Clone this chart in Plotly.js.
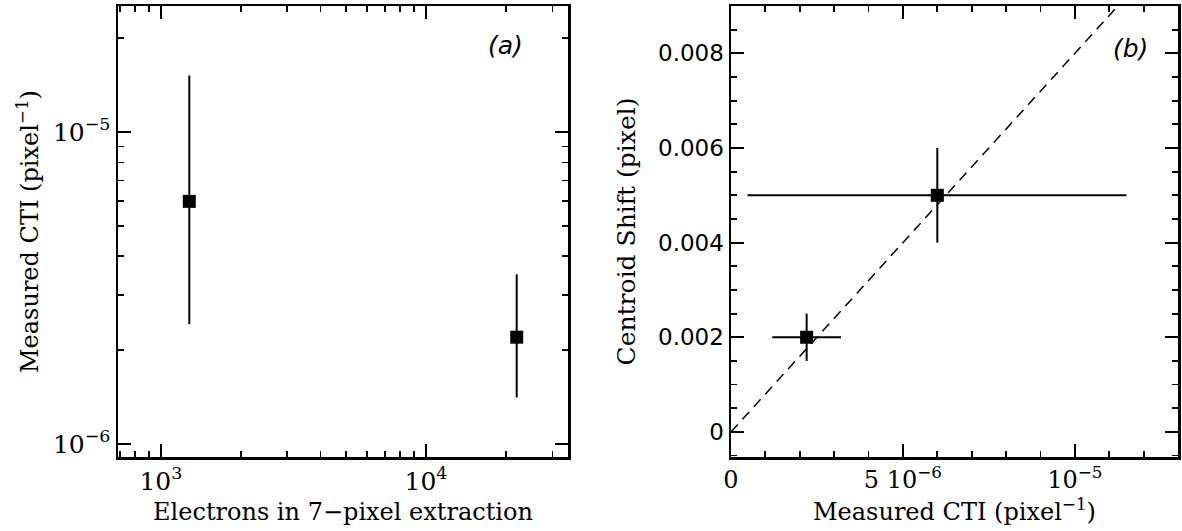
<!DOCTYPE html>
<html>
<head>
<meta charset="utf-8">
<script src="https://cdn.plot.ly/plotly-3.0.1.min.js"></script>
<style>html,body{margin:0;padding:0;background:#fff;}#chart{width:1182px;height:531px;}</style>
</head>
<body>
<div id="chart"></div>
<script>
// Panel (a): CTI vs electrons
const electrons = [1280, 22000];
const ctiA = [6.0e-6, 2.2e-6];
const ctiAUpper = [1.52e-5, 3.5e-6];
const ctiALower = [2.42e-6, 1.41e-6];

// Panel (b): centroid shift vs CTI
const ctiB = [2.2e-6, 6.0e-6];
const ctiBUpper = [3.2e-6, 1.15e-5];
const ctiBLower = [1.2e-6, 0.48e-6];
const shift = [0.002, 0.005];
const shiftUpper = [0.0025, 0.006];
const shiftLower = [0.0015, 0.004];

// Dashed reference line
const lineX = [0, 1.125e-5];
const lineY = [0, 0.009];

// Tick labels
const xATickVals = [1000, 10000];
const xATickText = ['10<sup>3</sup>', '10<sup>4</sup>'];
const xAMinor = [700, 800, 900, 2000, 3000, 4000, 5000, 6000, 7000, 8000, 9000, 20000, 30000];
const yATickVals = [1e-6, 1e-5];
const yATickText = ['10<sup>−6</sup>', '10<sup>−5</sup>'];
const yAMinor = [2e-6, 3e-6, 4e-6, 5e-6, 6e-6, 7e-6, 8e-6, 9e-6, 2e-5];
const xBTickVals = [0, 5e-6, 1e-5];
const xBTickText = ['0', '5 10<sup>−6</sup>', '10<sup>−5</sup>'];
const yBTickVals = [0, 0.002, 0.004, 0.006, 0.008];
const yBTickText = ['0', '0.002', '0.004', '0.006', '0.008'];

const diff = (a, b) => a.map((v, i) => v - b[i]);

const serif = 'DejaVu Serif';
const sans = 'DejaVu Sans';

const traces = [
  {
    x: electrons, y: ctiA, xaxis: 'x', yaxis: 'y', type: 'scatter', mode: 'markers',
    marker: {symbol: 'square', size: 13, color: '#000'},
    error_y: {type: 'data', symmetric: false, array: diff(ctiAUpper, ctiA), arrayminus: diff(ctiA, ctiALower),
      width: 0, thickness: 2, color: '#000'},
    showlegend: false, hoverinfo: 'skip'
  },
  {
    x: lineX, y: lineY, xaxis: 'x2', yaxis: 'y2', type: 'scatter', mode: 'lines',
    line: {color: '#000', width: 1.5, dash: '10px,7px'},
    showlegend: false, hoverinfo: 'skip'
  },
  {
    x: ctiB, y: shift, xaxis: 'x2', yaxis: 'y2', type: 'scatter', mode: 'markers',
    marker: {symbol: 'square', size: 13, color: '#000'},
    error_x: {type: 'data', symmetric: false, array: diff(ctiBUpper, ctiB), arrayminus: diff(ctiB, ctiBLower),
      width: 0, thickness: 2, color: '#000'},
    error_y: {type: 'data', symmetric: false, array: diff(shiftUpper, shift), arrayminus: diff(shift, shiftLower),
      width: 0, thickness: 2, color: '#000'},
    showlegend: false, hoverinfo: 'skip'
  }
];

const axisCommon = {
  showline: true, linecolor: '#000', linewidth: 2.5, mirror: 'allticks',
  ticks: 'inside', ticklen: 13, tickwidth: 1.8, tickcolor: '#000',
  showgrid: false, zeroline: false, tickmode: 'array', automargin: false
};
const minorCommon = {ticks: 'inside', ticklen: 6, tickwidth: 1.8, tickcolor: '#000', showgrid: false};

const layout = {
  width: 1182, height: 531,
  margin: {l: 0, r: 0, t: 0, b: 0},
  paper_bgcolor: '#fff', plot_bgcolor: '#fff',
  font: {family: serif, color: '#000'},
  xaxis: Object.assign({}, axisCommon, {
    domain: [118/1182, 568/1182], type: 'log', range: [Math.log10(689), Math.log10(34350)],
    tickvals: xATickVals, ticktext: xATickText, anchor: 'y',
    tickfont: {family: serif, size: 25},
    minor: Object.assign({tickmode: 'array', tickvals: xAMinor}, minorCommon),
    title: {text: 'Electrons in 7−pixel extraction', font: {family: serif, size: 24}, standoff: 9}
  }),
  yaxis: Object.assign({}, axisCommon, {
    domain: [74/531, 525/531], type: 'log', range: [Math.log10(9.08e-7), Math.log10(2.54e-5)],
    tickvals: yATickVals, ticktext: yATickText, anchor: 'x',
    tickfont: {family: serif, size: 25},
    minor: Object.assign({tickmode: 'array', tickvals: yAMinor}, minorCommon),
    title: {text: 'Measured CTI (pixel<sup>−1</sup>)', font: {family: serif, size: 24}, standoff: 8}
  }),
  xaxis2: Object.assign({}, axisCommon, {
    domain: [731/1182, 1178/1182], range: [0, 1.3e-5],
    tickvals: xBTickVals, ticktext: xBTickText, anchor: 'y2',
    tickfont: {family: serif, size: 24},
    minor: Object.assign({tickmode: 'linear', tick0: 0, dtick: 1e-6}, minorCommon),
    title: {text: 'Measured CTI (pixel<sup>−1</sup>)', font: {family: serif, size: 24}, standoff: 8}
  }),
  yaxis2: Object.assign({}, axisCommon, {
    domain: [74/531, 525/531], range: [-0.00053, 0.009],
    tickvals: yBTickVals, ticktext: yBTickText, anchor: 'x2',
    tickfont: {family: sans, size: 23},
    minor: Object.assign({tickmode: 'linear', tick0: 0, dtick: 0.0005}, minorCommon),
    title: {text: 'Centroid Shift (pixel)', font: {family: serif, size: 25}, standoff: 16}
  }),
  annotations: [
    {xref: 'paper', yref: 'paper', x: 505/1182, y: 1 - 45/531, text: '<i>(a)</i>', showarrow: false,
      font: {family: sans, size: 25}, xanchor: 'center', yanchor: 'middle'},
    {xref: 'paper', yref: 'paper', x: 1130/1182, y: 1 - 48/531, text: '<i>(b)</i>', showarrow: false,
      font: {family: sans, size: 25}, xanchor: 'center', yanchor: 'middle'}
  ]
};

Plotly.newPlot('chart', traces, layout, {displayModeBar: false, staticPlot: true});
</script>
</body>
</html>
